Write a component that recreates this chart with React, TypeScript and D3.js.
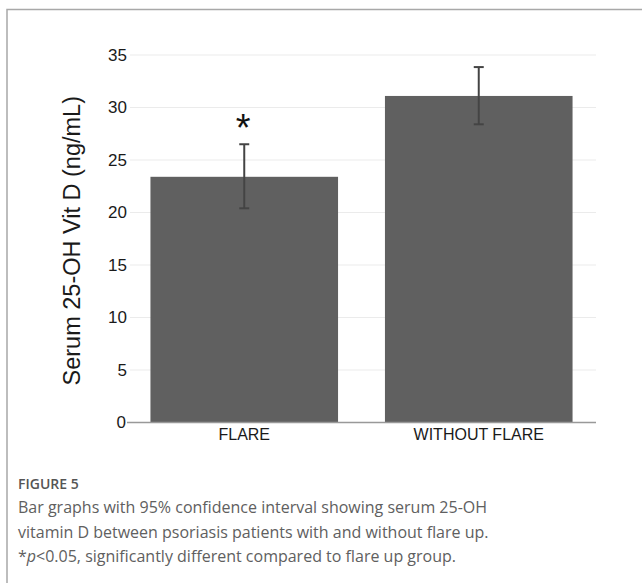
import { useEffect, useRef } from "react";
import * as d3 from "d3";

const groups = ["FLARE", "WITHOUT FLARE"];
const means = [23.4, 31.1];
const ciLow = [20.4, 28.4];
const ciHigh = [26.5, 33.85];
const significant = [true, false];
const yTicks = [0, 5, 10, 15, 20, 25, 30, 35];
const captionLines = [
  "Bar graphs with 95% confidence interval showing serum 25-OH",
  "vitamin D between psoriasis patients with and without flare up.",
];

const App = () => {
  const svgRef = useRef<SVGSVGElement>(null);

  useEffect(() => {
    if (!svgRef.current) return;
    const width = 642;
    const height = 583;
    const margin = { left: 127, right: 46, top: 55, bottom: 161 };

    const svg = d3.select(svgRef.current);
    svg.selectAll("*").remove();
    svg.attr("width", width).attr("height", height);

    // Frame around the figure
    svg
      .append("path")
      .attr("d", `M7,${height} L7,9.5 L${width},9.5`)
      .attr("fill", "none")
      .attr("stroke", "#a8a8a8")
      .attr("stroke-width", 1.5);

    const x = d3
      .scaleBand()
      .domain(groups)
      .range([margin.left, width - margin.right])
      .paddingInner(0.2)
      .paddingOuter(0.1);

    const y = d3
      .scaleLinear()
      .domain([0, 35])
      .range([height - margin.bottom + 0.5, margin.top]);

    const font = "'Liberation Sans', Arial, sans-serif";

    // Gridlines
    svg
      .append("g")
      .selectAll("line")
      .data(yTicks.filter((t) => t > 0))
      .join("line")
      .attr("x1", margin.left + 3)
      .attr("x2", width - margin.right)
      .attr("y1", (d) => y(d))
      .attr("y2", (d) => y(d))
      .attr("stroke", "#ebebeb")
      .attr("stroke-width", 1);

    // Bars
    svg
      .append("g")
      .selectAll("rect")
      .data(groups)
      .join("rect")
      .attr("x", (d) => x(d)!)
      .attr("y", (d, i) => y(means[i]))
      .attr("width", x.bandwidth())
      .attr("height", (d, i) => y(0) - y(means[i]))
      .attr("fill", "#606060");

    // Error bars
    const err = svg.append("g").attr("stroke", "#444444").attr("stroke-width", 2);
    groups.forEach((g, i) => {
      const cx = x(g)! + x.bandwidth() / 2;
      err
        .append("line")
        .attr("x1", cx)
        .attr("x2", cx)
        .attr("y1", y(ciLow[i]))
        .attr("y2", y(ciHigh[i]));
      [ciLow[i], ciHigh[i]].forEach((v) => {
        err
          .append("line")
          .attr("x1", cx - 5)
          .attr("x2", cx + 5)
          .attr("y1", y(v))
          .attr("y2", y(v));
      });
      if (significant[i]) {
        svg
          .append("text")
          .attr("x", cx - 1)
          .attr("y", y(ciHigh[i]) - 3)
          .attr("text-anchor", "middle")
          .attr("font-family", font)
          .attr("font-size", "38px")
          .attr("fill", "#111")
          .text("*");
      }
    });

    // X axis line
    svg
      .append("line")
      .attr("x1", margin.left)
      .attr("x2", width - margin.right)
      .attr("y1", y(0))
      .attr("y2", y(0))
      .attr("stroke", "#999")
      .attr("stroke-width", 1.5);

    // Y tick labels
    svg
      .append("g")
      .selectAll("text")
      .data(yTicks)
      .join("text")
      .attr("x", (d) => (d === 0 ? margin.left - 1 : margin.left))
      .attr("y", (d) => y(d))
      .attr("dy", "0.35em")
      .attr("text-anchor", "end")
      .attr("font-family", font)
      .attr("font-size", "17px")
      .attr("fill", "#1a1a1a")
      .text((d) => d);

    // X labels
    svg
      .append("g")
      .selectAll("text")
      .data(groups)
      .join("text")
      .attr("x", (d) => x(d)! + x.bandwidth() / 2)
      .attr("y", y(0) + 17.5)
      .attr("text-anchor", "middle")
      .attr("font-family", font)
      .attr("font-size", "16px")
      .attr("fill", "#1a1a1a")
      .text((d) => d);

    // Y axis title
    svg
      .append("text")
      .attr("transform", `translate(80,${(y(0) + y(35)) / 2 + 2}) rotate(-90)`)
      .attr("text-anchor", "middle")
      .attr("font-family", font)
      .attr("font-size", "23.5px")
      .attr("fill", "#1a1a1a")
      .text("Serum 25-OH Vit D (ng/mL)");

    // Caption
    const capFont = "'Open Sans', 'Noto Sans', sans-serif";
    svg
      .append("text")
      .attr("x", 18)
      .attr("y", 489)
      .attr("font-family", capFont)
      .attr("font-size", "14px")
      .attr("font-weight", 600)
      .attr("fill", "#555")
      .text("FIGURE 5");

    captionLines.forEach((line, i) => {
      svg
        .append("text")
        .attr("x", 18)
        .attr("y", 513 + i * 24.5)
        .attr("font-family", capFont)
        .attr("font-size", "16px")
        .attr("fill", "#606060")
        .text(line);
    });
    const last = svg
      .append("text")
      .attr("x", 18)
      .attr("y", 513 + 2 * 24.5)
      .attr("font-family", capFont)
      .attr("font-size", "16px")
      .attr("fill", "#606060");
    last.append("tspan").text("*");
    last.append("tspan").attr("font-style", "italic").text("p");
    last.append("tspan").text("<0.05, significantly different compared to flare up group.");
  }, []);

  return (
    <div style={{ position: "absolute", left: 0, top: 0, background: "#fff" }}>
      <svg ref={svgRef} style={{ display: "block" }} />
    </div>
  );
};

export default App;
